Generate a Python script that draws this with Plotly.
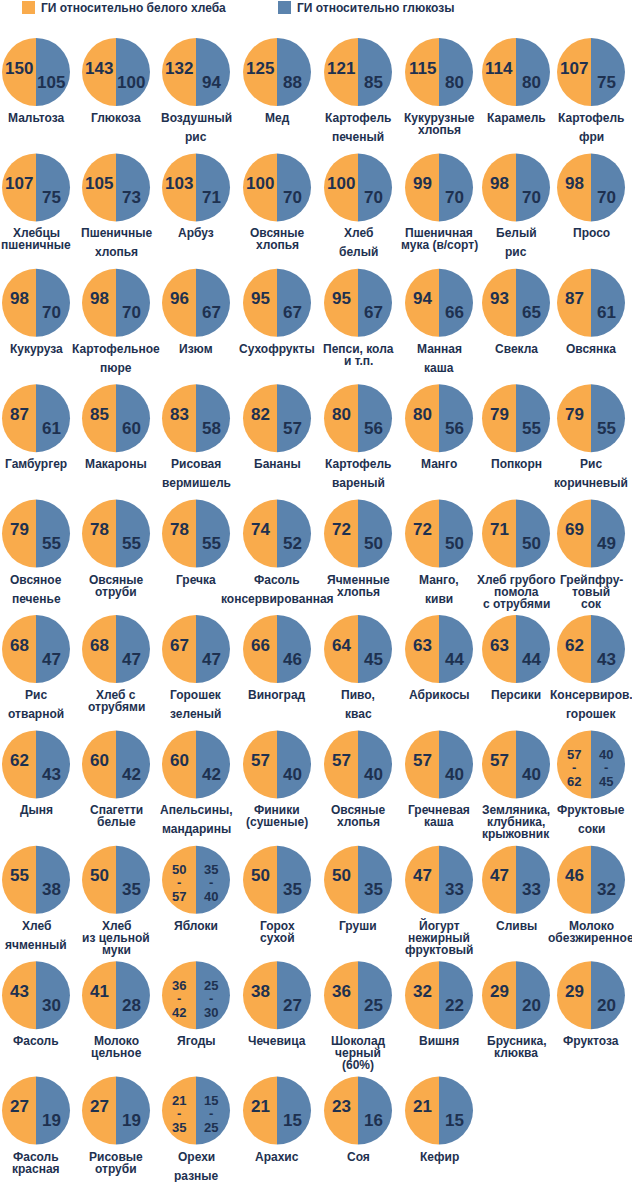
import plotly.graph_objects as go

# ---------------- data ----------------
legend_labels = ["ГИ относительно белого хлеба", "ГИ относительно глюкозы"]

foods = [
    "Мальтоза", "Глюкоза", "Воздушный\nрис", "Мед", "Картофель\nпеченый", "Кукурузные\nхлопья", "Карамель", "Картофель\nфри",
    "Хлебцы\nпшеничные", "Пшеничные\nхлопья", "Арбуз", "Овсяные\nхлопья", "Хлеб\nбелый", "Пшеничная\nмука (в/сорт)", "Белый\nрис", "Просо",
    "Кукуруза", "Картофельное\nпюре", "Изюм", "Сухофрукты", "Пепси, кола\nи т.п.", "Манная\nкаша", "Свекла", "Овсянка",
    "Гамбургер", "Макароны", "Рисовая\nвермишель", "Бананы", "Картофель\nвареный", "Манго", "Попкорн", "Рис\nкоричневый",
    "Овсяное\nпеченье", "Овсяные\nотруби", "Гречка", "Фасоль\nконсервированная", "Ячменные\nхлопья", "Манго,\nкиви", "Хлеб грубого\nпомола\nс отрубями", "Грейпфру-\nтовый\nсок",
    "Рис\nотварной", "Хлеб с\nотрубями", "Горошек\nзеленый", "Виноград", "Пиво,\nквас", "Абрикосы", "Персики", "Консервиров.\nгорошек",
    "Дыня", "Спагетти\nбелые", "Апельсины,\nмандарины", "Финики\n(сушеные)", "Овсяные\nхлопья", "Гречневая\nкаша", "Земляника,\nклубника,\nкрыжовник", "Фруктовые\nсоки",
    "Хлеб\nячменный", "Хлеб\nиз цельной\nмуки", "Яблоки", "Горох\nсухой", "Груши", "Йогурт\nнежирный\nфруктовый", "Сливы", "Молоко\nобезжиренное",
    "Фасоль", "Молоко\nцельное", "Ягоды", "Чечевица", "Шоколад\nчерный\n(60%)", "Вишня", "Брусника,\nклюква", "Фруктоза",
    "Фасоль\nкрасная", "Рисовые\nотруби", "Орехи\nразные", "Арахис", "Соя", "Кефир",
]

gi_bread = [
    "150", "143", "132", "125", "121", "115", "114", "107",
    "107", "105", "103", "100", "100", "99", "98", "98",
    "98", "98", "96", "95", "95", "94", "93", "87",
    "87", "85", "83", "82", "80", "80", "79", "79",
    "79", "78", "78", "74", "72", "72", "71", "69",
    "68", "68", "67", "66", "64", "63", "63", "62",
    "62", "60", "60", "57", "57", "57", "57", "57-62",
    "55", "50", "50-57", "50", "50", "47", "47", "46",
    "43", "41", "36-42", "38", "36", "32", "29", "29",
    "27", "27", "21-35", "21", "23", "21",
]

gi_glucose = [
    "105", "100", "94", "88", "85", "80", "80", "75",
    "75", "73", "71", "70", "70", "70", "70", "70",
    "70", "70", "67", "67", "67", "66", "65", "61",
    "61", "60", "58", "57", "56", "56", "55", "55",
    "55", "55", "55", "52", "50", "50", "50", "49",
    "47", "47", "47", "46", "45", "44", "44", "43",
    "43", "42", "42", "40", "40", "40", "40", "40-45",
    "38", "35", "35-40", "35", "35", "33", "33", "32",
    "30", "28", "25-30", "27", "25", "22", "20", "20",
    "19", "19", "15-25", "15", "16", "15",
]

# ---------------- style / layout ----------------
# labels whose line breaks are drawn with wide spacing
LOOSE_BREAK = {
    "Воздушный\nрис", "Картофель\nпеченый", "Картофель\nфри",
    "Пшеничные\nхлопья", "Хлеб\nбелый", "Белый\nрис",
    "Картофельное\nпюре", "Манная\nкаша",
    "Рисовая\nвермишель", "Картофель\nвареный", "Рис\nкоричневый",
    "Овсяное\nпеченье", "Фасоль\nконсервированная", "Манго,\nкиви",
    "Рис\nотварной", "Горошек\nзеленый", "Пиво,\nквас", "Консервиров.\nгорошек",
    "Апельсины,\nмандарины", "Фруктовые\nсоки",
    "Хлеб\nячменный", "Орехи\nразные",
}

W, H = 632, 1182
COL_X = [36, 116, 196, 277, 358, 439, 516, 591]
ROW_Y0, ROW_STEP = 72, 115.4
R = 34
HALVES = [1, 1]
ORANGE = "#F9AB4C"
BLUE = "#5B83AD"
INK = "#1E3150"
FONT = "Liberation Sans, Arial, sans-serif"


def px(x):
    return x / W


def py(y):
    return 1 - y / H


fig = go.Figure()
ann = []


def add_text(text, x, y, size, xanchor="center"):
    ann.append(dict(
        text=text, x=px(x), y=py(y), xref="paper", yref="paper",
        xanchor=xanchor, yanchor="middle", showarrow=False,
        font=dict(family=FONT, size=size, color=INK, weight="bold"),
    ))


def add_value(val, x, cy, base_dy):
    if "-" in val:
        lo, hi = val.split("-")
        add_text(lo, x, cy - 10, 13)
        add_text("-", x, cy + 3, 13)
        add_text(hi, x, cy + 17, 13)
    else:
        add_text(val, x, cy + base_dy, 17)


for i, (name, b, g) in enumerate(zip(foods, gi_bread, gi_glucose)):
    r, c = divmod(i, 8)
    cx = COL_X[c]
    cy = ROW_Y0 + r * ROW_STEP
    fig.add_trace(go.Pie(
        values=HALVES, labels=legend_labels,
        marker=dict(colors=[ORANGE, BLUE], line=dict(width=0)),
        sort=False, direction="clockwise", rotation=180,
        textinfo="none", hoverinfo="skip", showlegend=False,
        domain=dict(x=[px(cx - R), px(cx + R)], y=[py(cy + R), py(cy - R)]),
    ))
    add_value(b, cx - 17, cy, -4)
    add_value(g, cx + 15, cy, 10)
    lines = name.split("\n")
    gap = 19 if name in LOOSE_BREAK else 12
    for k, line in enumerate(lines):
        add_text(line, cx, cy + 46 + k * gap, 12)

# legend
shapes = []
for (x0, color), text in zip([(22, ORANGE), (278, BLUE)], legend_labels):
    shapes.append(dict(type="rect", xref="paper", yref="paper",
                       x0=px(x0), x1=px(x0 + 13), y0=py(14), y1=py(1),
                       fillcolor=color, line=dict(width=0)))
    ann.append(dict(
        text=text, x=px(x0 + 17), y=py(8), xref="paper", yref="paper",
        xanchor="left", yanchor="middle", showarrow=False,
        font=dict(family=FONT, size=12, color=INK, weight="bold"),
    ))

fig.update_layout(
    width=W, height=H, margin=dict(l=0, r=0, t=0, b=0),
    paper_bgcolor="white", plot_bgcolor="white",
    annotations=ann, shapes=shapes, showlegend=False,
)

fig.write_html("out.html", config={"displayModeBar": False},
               post_script="document.body.style.margin='0';")
